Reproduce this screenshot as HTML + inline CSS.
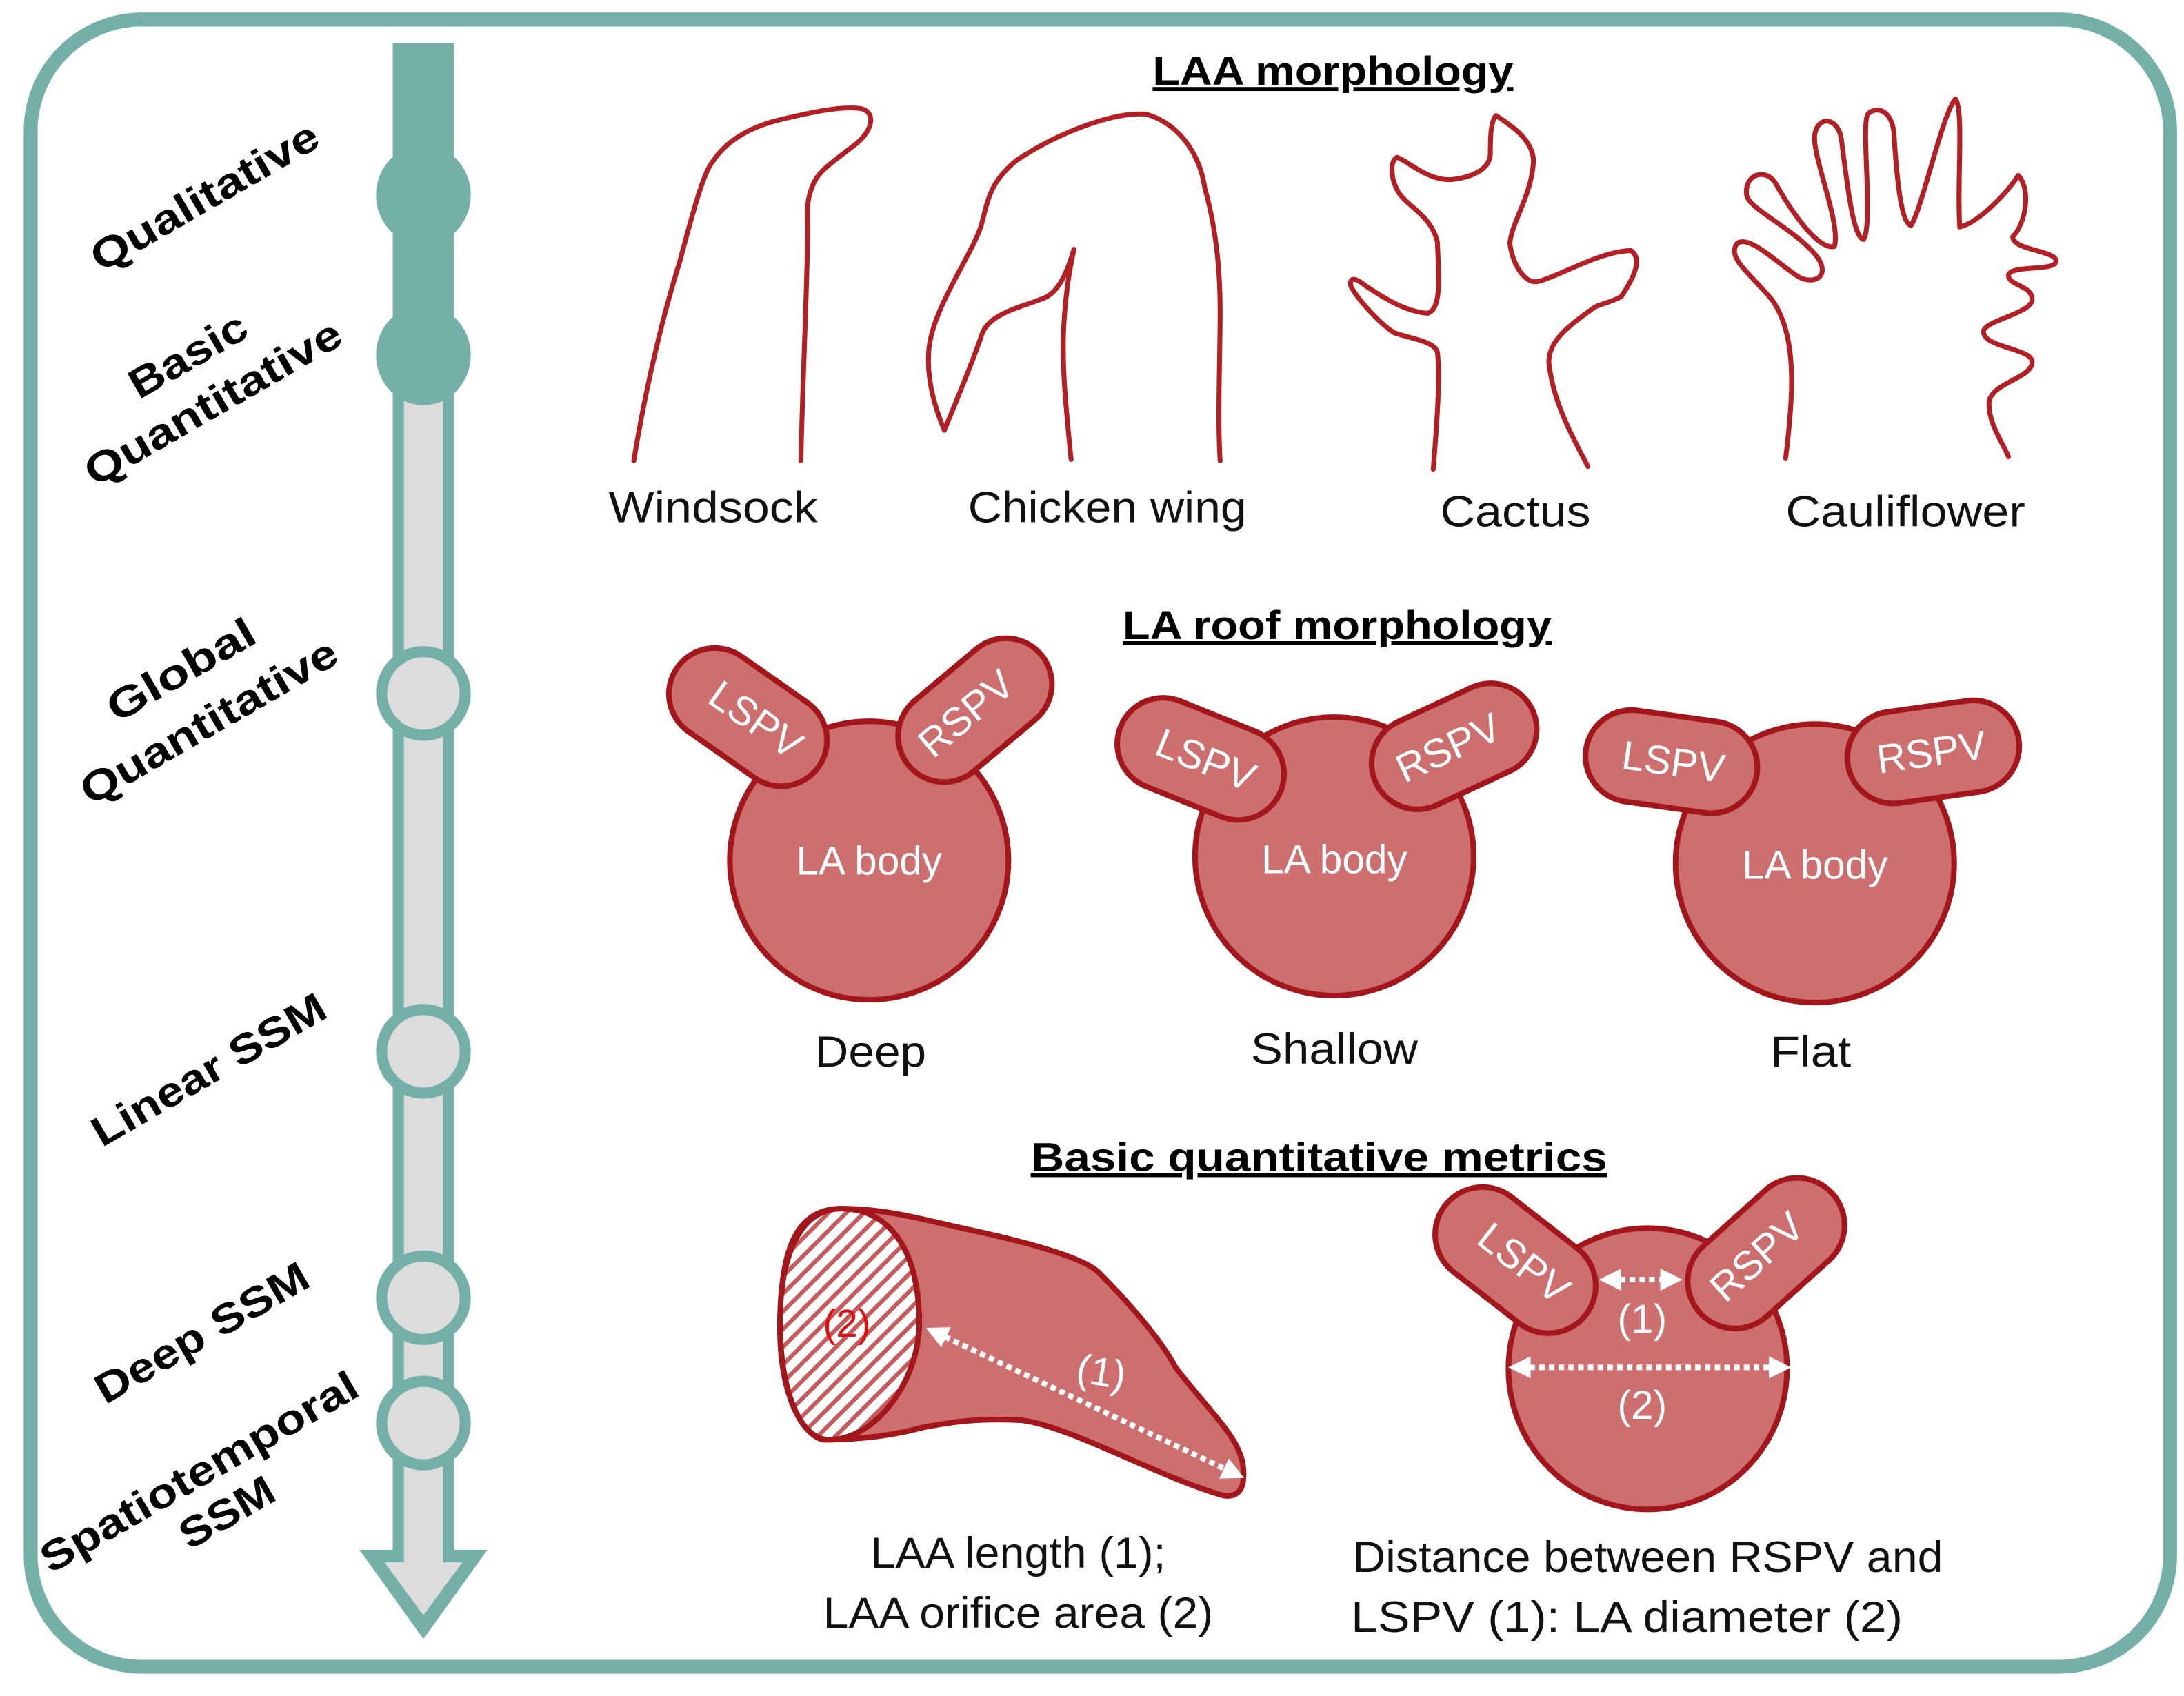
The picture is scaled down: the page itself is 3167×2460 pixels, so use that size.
<!DOCTYPE html>
<html><head><meta charset="utf-8">
<style>html,body{margin:0;padding:0;background:#fff}svg{display:block}</style></head>
<body>
<svg width="3167" height="2460" viewBox="0 0 1568 1218" preserveAspectRatio="none" xmlns="http://www.w3.org/2000/svg" font-family="Liberation Sans, sans-serif">
<defs>
<pattern id="h" width="9" height="9" patternUnits="userSpaceOnUse" patternTransform="rotate(45)">
<rect width="9" height="9" fill="#fff"/><rect width="3" height="9" fill="#c65a5c"/>
</pattern>
<marker id="a" viewBox="0 0 10 10" refX="5" refY="5" markerWidth="4" markerHeight="4" orient="auto-start-reverse"><path d="M0,0L10,5L0,10Z" fill="#fff"/></marker>
</defs>
<rect x="22" y="14" width="1536" height="1183" rx="80" fill="#fff" stroke="#74afa8" stroke-width="10"/>

<!-- timeline -->
<rect x="282" y="31" width="44" height="1090" fill="#74afa8"/>
<polygon points="258,1113 350,1113 304,1177" fill="#74afa8"/>
<polygon points="276,1122 332,1122 304,1160" fill="#dcdcdc"/>
<rect x="290" y="285" width="28" height="840" fill="#dcdcdc"/>
<ellipse cx="304" cy="140" rx="34" ry="36" fill="#74afa8"/>
<ellipse cx="304" cy="255" rx="34" ry="36" fill="#74afa8"/>
<g fill="#dcdcdc" stroke="#74afa8" stroke-width="8">
<circle cx="304" cy="498" r="30"/><circle cx="304" cy="755" r="30"/><circle cx="304" cy="932" r="30"/><circle cx="304" cy="1022" r="30"/>
</g>
<g font-weight="bold" font-size="30" fill="#000" text-anchor="middle" lengthAdjust="spacingAndGlyphs">
<text transform="translate(152,150) rotate(-30)" textLength="184" lengthAdjust="spacingAndGlyphs">Qualitative</text>
<text transform="translate(140,264) rotate(-30)" textLength="93" lengthAdjust="spacingAndGlyphs">Basic</text>
<text transform="translate(158,298) rotate(-30)" textLength="208" lengthAdjust="spacingAndGlyphs">Quantitative</text>
<text transform="translate(135,490) rotate(-30)" textLength="118" lengthAdjust="spacingAndGlyphs">Global</text>
<text transform="translate(155,527) rotate(-30)" textLength="208" lengthAdjust="spacingAndGlyphs">Quantitative</text>
<text transform="translate(155,777) rotate(-30)" textLength="189" lengthAdjust="spacingAndGlyphs">Linear SSM</text>
<text transform="translate(150,966) rotate(-30)" textLength="172" lengthAdjust="spacingAndGlyphs">Deep SSM</text>
<text transform="translate(148,1066) rotate(-30)" textLength="258" lengthAdjust="spacingAndGlyphs">Spatiotemporal</text>
<text transform="translate(168,1095) rotate(-30)" textLength="74" lengthAdjust="spacingAndGlyphs">SSM</text>
</g>

<!-- titles -->
<g font-weight="bold" font-size="29" text-anchor="middle" text-decoration="underline">
<text x="957" y="61" textLength="259" lengthAdjust="spacingAndGlyphs">LAA morphology</text>
<text x="960" y="459" textLength="308" lengthAdjust="spacingAndGlyphs">LA roof morphology</text>
<text x="947" y="841" textLength="414" lengthAdjust="spacingAndGlyphs">Basic quantitative metrics</text>
</g>

<!-- LAA outlines -->
<g fill="none" stroke="#b22025" stroke-width="3.5" stroke-linecap="round" stroke-linejoin="round">
<path d="M455,331 C465,270 478,220 488,188 C498,150 505,125 511,117 C520,103 535,92 560,86 C585,80 605,76 618,78 C628,80 628,92 615,103 C600,115 588,122 584,132 C578,145 580,155 580,165 C579,220 576,280 575,331"/>
<path d="M769,330 C765,290 762,260 764,230 C766,200 770,185 771,179 C765,200 758,212 747,215 C735,220 710,225 705,240 C700,255 690,280 678,309 C670,290 665,270 667,250 C670,220 700,180 705,160 C710,140 712,130 730,115 C760,95 800,80 823,82 C850,90 862,115 865,135 C872,160 876,190 876,223 C876,260 874,300 876,331"/>
<path d="M1029,337 C1032,300 1034,270 1032,253 C1030,245 1012,243 1001,239 C990,232 975,215 970,206 C968,198 974,200 980,205 C995,215 1010,224 1025,225 C1035,222 1033,200 1032,174 C1028,155 1010,148 1004,138 C998,128 998,115 1003,113 C1010,115 1025,130 1042,129 C1060,127 1070,120 1070,110 C1070,100 1070,88 1074,83 C1085,90 1100,100 1101,115 C1100,140 1085,160 1084,175 C1086,190 1095,205 1105,202 C1120,198 1150,180 1171,180 C1178,185 1176,195 1164,213 C1155,218 1148,218 1143,222 C1125,235 1112,245 1112,260 C1115,290 1130,315 1140,335"/>
<path d="M1282,329 C1288,280 1290,240 1272,215 C1255,195 1240,185 1247,175 C1255,168 1275,188 1290,198 C1300,205 1315,200 1305,185 C1290,165 1255,150 1254,140 C1252,125 1268,120 1275,132 C1285,150 1305,180 1317,177 C1322,160 1300,110 1303,96 C1306,82 1320,85 1322,100 C1326,130 1330,170 1338,172 C1345,160 1336,90 1341,82 C1348,75 1360,80 1360,100 C1362,130 1365,160 1372,162 C1380,150 1395,80 1404,71 C1410,80 1405,130 1407,163 C1420,160 1440,140 1449,126 C1458,135 1455,160 1445,170 C1445,180 1478,180 1476,188 C1475,195 1442,190 1442,198 C1442,205 1459,205 1459,215 C1459,225 1425,230 1424,238 C1424,250 1459,250 1459,260 C1459,272 1428,275 1428,290 C1428,305 1438,318 1442,328"/>
</g>
<g font-size="31" fill="#111" text-anchor="middle">
<text x="512" y="375" textLength="150" lengthAdjust="spacingAndGlyphs">Windsock</text>
<text x="795" y="375" textLength="200" lengthAdjust="spacingAndGlyphs">Chicken wing</text>
<text x="1088" y="378" textLength="108" lengthAdjust="spacingAndGlyphs">Cactus</text>
<text x="1368" y="378" textLength="172" lengthAdjust="spacingAndGlyphs">Cauliflower</text>
<text x="625" y="766" textLength="80" lengthAdjust="spacingAndGlyphs">Deep</text>
<text x="958" y="764" textLength="120" lengthAdjust="spacingAndGlyphs">Shallow</text>
<text x="1300" y="766" textLength="58" lengthAdjust="spacingAndGlyphs">Flat</text>
<text x="731" y="1126" textLength="212" lengthAdjust="spacingAndGlyphs">LAA length (1);</text>
<text x="731" y="1169" textLength="280" lengthAdjust="spacingAndGlyphs">LAA orifice area (2)</text>
<text x="1183" y="1129" textLength="424" lengthAdjust="spacingAndGlyphs">Distance between RSPV and</text>
<text x="1168" y="1172" textLength="396" lengthAdjust="spacingAndGlyphs">LSPV (1): LA diameter (2)</text>
</g>

<!-- LA roof shapes -->
<g fill="#cd6e6f" stroke="#a3161b" stroke-width="4">
<circle cx="624" cy="618" r="100"/>
<rect x="-62" y="-33" width="124" height="66" rx="33" transform="translate(537,515) rotate(35)"/>
<rect x="-62" y="-33" width="124" height="66" rx="33" transform="translate(700,510) rotate(-40)"/>
<circle cx="958" cy="615" r="100"/>
<rect x="-62" y="-33" width="124" height="66" rx="33" transform="translate(862,545) rotate(22)"/>
<rect x="-62" y="-33" width="124" height="66" rx="33" transform="translate(1044,536) rotate(-25)"/>
<circle cx="1303" cy="620" r="100"/>
<rect x="-62" y="-33" width="124" height="66" rx="33" transform="translate(1200,547) rotate(8)"/>
<rect x="-62" y="-33" width="124" height="66" rx="33" transform="translate(1388,540) rotate(-8)"/>
<!-- bottom -->
<path d="M604,868 C640,868 670,878 700,884 C750,895 780,905 789,914 C815,940 835,965 844,982 C865,1010 888,1030 892,1050 C895,1068 890,1076 878,1074 C830,1060 770,1025 734,1020 C700,1018 680,1022 663,1025 C645,1030 620,1034 591,1034 C575,1030 560,1000 560,955 C560,900 570,868 604,868Z"/>
<path d="M604,868 C575,868 560,900 560,950 C560,1000 575,1034 595,1034 C630,1034 660,990 660,950 C660,900 640,868 604,868Z" fill="url(#h)"/>
<ellipse cx="1183" cy="983" rx="100" ry="101"/>
<rect x="-64" y="-34" width="128" height="68" rx="34" transform="translate(1088,905) rotate(38)"/>
<rect x="-64" y="-34" width="128" height="68" rx="34" transform="translate(1268,900) rotate(-42)"/>
</g>
<g fill="#fff" font-size="29" text-anchor="middle">
<text x="624" y="628">LA body</text><text x="958" y="627">LA body</text><text x="1303" y="631">LA body</text>
<text transform="translate(537,525) rotate(35)">LSPV</text>
<text transform="translate(700,520) rotate(-40)">RSPV</text>
<text transform="translate(862,555) rotate(22)">LSPV</text>
<text transform="translate(1044,546) rotate(-25)">RSPV</text>
<text transform="translate(1200,557) rotate(8)">LSPV</text>
<text transform="translate(1388,550) rotate(-8)">RSPV</text>
<text transform="translate(1088,915) rotate(38)">LSPV</text>
<text transform="translate(1268,910) rotate(-42)">RSPV</text>
<text transform="translate(789,995) rotate(10)">(1)</text>
<text x="1179" y="957">(1)</text>
<text x="1179" y="1019">(2)</text>
</g>
<text x="608" y="960" font-size="28" fill="#e01010" text-anchor="middle">(2)</text>
<g stroke="#fff" stroke-width="4" stroke-dasharray="4,3" fill="none" marker-start="url(#a)" marker-end="url(#a)">
<line x1="672" y1="957" x2="886" y2="1058"/>
<line x1="1156" y1="919" x2="1200" y2="919"/>
<line x1="1091" y1="982" x2="1278" y2="982"/>
</g>
</svg>
</body></html>
